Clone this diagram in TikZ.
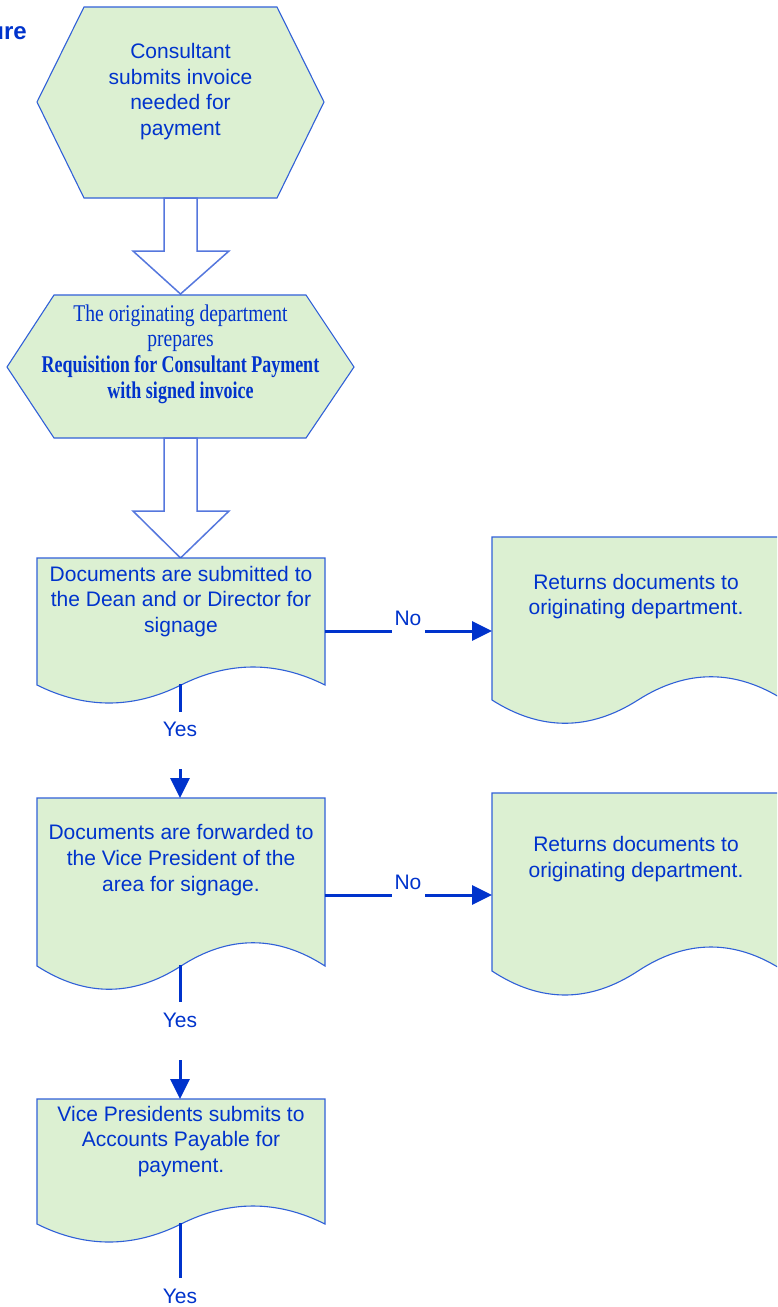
\documentclass[tikz,border=0pt]{standalone}
\usepackage{fontspec}
\setmainfont{Liberation Sans}
\newfontfamily\condreg[FakeStretch=0.815]{Liberation Serif}
\newfontfamily\condbold[FakeStretch=0.75]{Liberation Serif}
\usetikzlibrary{arrows.meta}
\definecolor{txtblue}{HTML}{0033CC}
\definecolor{edgeblue}{HTML}{3060D8}
\definecolor{arrowedge}{HTML}{5577DD}
\definecolor{fillg}{HTML}{DCF0D2}
\tikzset{
  boxshape/.style={draw=edgeblue, line width=1.1pt, fill=fillg},
  blockarrow/.style={draw=arrowedge, line width=1.5pt, fill=white, line join=miter},
  boxtext/.style={text=txtblue, align=center, inner sep=0pt, font=\fontsize{21}{25.7}\selectfont},
  lbl/.style={text=txtblue, inner sep=0pt, font=\fontsize{21}{24}\selectfont},
  conn/.style={draw=txtblue, line width=3pt},
  connarrow/.style={conn, -{Triangle[length=20pt,width=19pt]}},
}
\begin{document}
\begin{tikzpicture}[x=1pt,y=-1pt]
\useasboundingbox (0,0) rectangle (777,1307);
\clip (0,0) rectangle (777,1307);

% title fragment
\node[anchor=east, text=txtblue, inner sep=0pt, font=\fontsize{24}{28}\selectfont\bfseries] (title) at (27,33) {ure};

% hexagon 1
\draw[boxshape] (84,7) -- (277,7) -- (324,102) -- (277,198) -- (84,198) -- (37,102) -- cycle;
\node[boxtext] (start) at (180.5,91.5) {Consultant\\submits invoice\\needed for\\payment};

% block arrow 1
\draw[blockarrow] (164,198) -- (197,198) -- (197,251) -- (229,251) -- (180.5,294) -- (133,251) -- (164,251) -- cycle;

% hexagon 2
\draw[boxshape] (54,295) -- (306,295) -- (354,367) -- (306,438) -- (54,438) -- (7,367) -- cycle;
\node[text=txtblue, align=center, inner sep=0pt, font=\fontsize{24}{25.7}\selectfont\condreg] (prep) at (180.5,354)
  {The originating department\\
   prepares\\
   {\condbold\bfseries Requisition for Consultant Payment}\\
   {\condbold\bfseries with signed invoice}};

% block arrow 2
\draw[blockarrow] (164,438) -- (197,438) -- (197,511) -- (229,511) -- (180.5,558) -- (133,511) -- (164,511) -- cycle;

% document 1
\draw[boxshape] (37,558) -- (325,558) -- (325,685)
  .. controls (277,661) and (229,661) .. (181,685)
  .. controls (133,709) and (85,709) .. (37,685) -- cycle;
\node[boxtext] (dean) at (181,601.5) {Documents are submitted to\\the Dean and or Director for\\signage};

% right document 1
\draw[boxshape] (492,537) -- (784,537) -- (784,700)
  .. controls (735.3,669) and (686.7,669) .. (638,700)
  .. controls (589.3,731) and (540.7,731) .. (492,700) -- cycle;
\node[boxtext] (ret1) at (636,596.5) {Returns documents to\\originating department.};

% document 2
\draw[boxshape] (37,798) -- (325,798) -- (325,966)
  .. controls (277,935) and (229,935) .. (181,966)
  .. controls (133,997) and (85,997) .. (37,966) -- cycle;
\node[boxtext] (vp) at (181,860) {Documents are forwarded to\\the Vice President of the\\area for signage.};

% right document 2
\draw[boxshape] (492,793) -- (784,793) -- (784,971)
  .. controls (735.3,939) and (686.7,939) .. (638,971)
  .. controls (589.3,1003) and (540.7,1003) .. (492,971) -- cycle;
\node[boxtext] (ret2) at (636,859) {Returns documents to\\originating department.};

% document 3
\draw[boxshape] (37,1099) -- (325,1099) -- (325,1224)
  .. controls (277,1200) and (229,1200) .. (181,1224)
  .. controls (133,1248) and (85,1248) .. (37,1224) -- cycle;
\node[boxtext] (ap) at (181,1141.5) {Vice Presidents submits to\\Accounts Payable for\\payment.};

% connection points
\coordinate (d1b) at (180,684);
\coordinate (y1a) at (180,712);
\coordinate (y1b) at (180,769);
\coordinate (d2t) at (180,798);
\coordinate (d2b) at (180,965);
\coordinate (y2a) at (180,1002);
\coordinate (y2b) at (180,1060);
\coordinate (d3t) at (180,1099);
\coordinate (d3b) at (180,1223);
\coordinate (y3a) at (180,1278);
\coordinate (d1r) at (325,631);
\coordinate (n1a) at (392,631);
\coordinate (n1b) at (425,631);
\coordinate (r1l) at (492,631);
\coordinate (d2r) at (325,895);
\coordinate (n2a) at (392,895);
\coordinate (n2b) at (425,895);
\coordinate (r2l) at (492,895);

% labels
\node[lbl] (yes1) at (180,729) {Yes};
\node[lbl] (yes2) at (180,1020) {Yes};
\node[lbl] (yes3) at (180,1296) {Yes};
\node[lbl] (no1) at (408,618) {No};
\node[lbl] (no2) at (408,882) {No};

% connectors
\draw[conn] (d1b) -- (y1a);
\draw[connarrow] (y1b) -- (d2t);
\draw[conn] (d2b) -- (y2a);
\draw[connarrow] (y2b) -- (d3t);
\draw[conn] (d3b) -- (y3a);
\draw[conn] (d1r) -- (n1a);
\draw[connarrow] (n1b) -- (r1l);
\draw[conn] (d2r) -- (n2a);
\draw[connarrow] (n2b) -- (r2l);
\end{tikzpicture}
\end{document}
